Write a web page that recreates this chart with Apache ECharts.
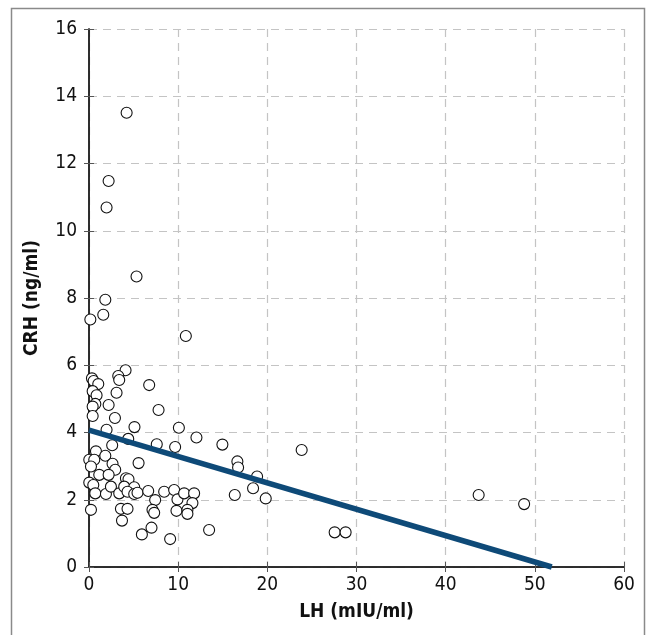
<!DOCTYPE html>
<html>
<head>
<meta charset="utf-8">
<script src="https://cdn.jsdelivr.net/npm/echarts@6/dist/echarts.min.js"></script>
<style>html,body{margin:0;padding:0;background:#fff}#c{width:648px;height:635px}</style>
</head>
<body>
<div id="c"></div>
<script>
const xTicks = [0, 10, 20, 30, 40, 50, 60];
const yTicks = [0, 2, 4, 6, 8, 10, 12, 14, 16];
const xTitle = 'LH (mIU/ml)';
const yTitle = 'CRH (ng/ml)';
const lh = [4.22, 2.2, 1.97, 5.33, 1.83, 1.6, 0.15,
  10.86, 4.1, 3.28, 3.39, 0.33, 0.52, 1.04, 6.75, 0.41, 0.85, 3.09, 0.71, 0.41, 2.2, 7.8, 0.41, 2.91, 1.97, 5.1, 10.08, 12.05, 4.4,
  14.96, 23.85, 16.64, 16.72, 18.85, 18.4, 16.35, 19.82, 27.55, 28.78,
  2.6, 7.6, 9.66, 0.78, 1.83,
  0.03, 0.59, 2.64, 2.94, 0.22, 1.15, 2.2, 5.56, 0.03, 0.48, 0.7, 1.9, 2.46, 3.39, 4.14, 4.43, 3.95, 5.07, 4.32, 5.07, 5.44, 6.64, 7.42, 8.43, 9.55, 9.92, 10.67, 11.79, 11.6, 0.22, 3.58, 4.32, 3.7, 7.12, 7.31, 9.81, 11.04, 11.04, 13.47, 7.01, 5.93, 9.1,
  43.7, 48.8];
const crh = [13.51, 11.48, 10.69, 8.64, 7.95, 7.5, 7.36,
  6.87, 5.85, 5.68, 5.56, 5.61, 5.53, 5.44, 5.41, 5.23, 5.11, 5.18, 4.85, 4.77, 4.82, 4.67, 4.49, 4.43, 4.08, 4.16, 4.14, 3.85, 3.81,
  3.64, 3.48, 3.14, 2.96, 2.69, 2.34, 2.14, 2.04, 1.03, 1.03,
  3.62, 3.65, 3.57, 3.44, 3.31,
  3.19, 3.19, 3.07, 2.89, 2.99, 2.74, 2.74, 3.09, 2.51, 2.44, 2.19, 2.17, 2.39, 2.19, 2.64, 2.61, 2.39, 2.37, 2.24, 2.17, 2.21, 2.26, 1.99, 2.24, 2.29, 2.01, 2.19, 2.19, 1.9, 1.7, 1.73, 1.73, 1.38, 1.7, 1.61, 1.67, 1.7, 1.58, 1.1, 1.17, 0.97, 0.83,
  2.14, 1.87];
const fitX = [0, 51.9];
const fitY = [4.07, 0];

const font = "'Liberation Sans Narrow','DejaVu Sans Condensed','Roboto Condensed',sans-serif";
const chart = echarts.init(document.getElementById('c'), null, {renderer: 'canvas'});
const pts = lh.map((v, i) => [v, crh[i]]);
const fit = fitX.map((v, i) => [v, fitY[i]]);
const axisLine = {show: true, lineStyle: {color: '#222', width: 1.5}};
const tick = {show: true, inside: true, length: 5, lineStyle: {color: '#555', width: 1}};
const split = {show: true, lineStyle: {color: '#c4c4c4', type: [8, 6], width: 1.2}};
const lab = {color: '#111', fontFamily: font, fontSize: 19};
chart.setOption({
  animation: false,
  backgroundColor: '#fff',
  graphic: [{type: 'rect', shape: {x: 11.5, y: 8.5, width: 633, height: 700}, style: {fill: 'none', stroke: '#8a8a8a', lineWidth: 1.5}, z: -10}],
  grid: {left: 89, right: 24, top: 29, bottom: 68, show: false},
  xAxis: [
    {type: 'value', min: xTicks[0], max: xTicks[xTicks.length - 1], interval: 10, position: 'bottom',
      name: xTitle, nameLocation: 'middle', nameGap: 36,
      nameTextStyle: {fontFamily: font, fontSize: 19, fontWeight: 'bold', color: '#111'},
      axisLine: axisLine, axisTick: tick, splitLine: split,
      axisLabel: Object.assign({margin: 9}, lab)},
    {type: 'value', min: xTicks[0], max: xTicks[xTicks.length - 1], interval: 10, position: 'top',
      axisLine: axisLine, axisTick: tick, splitLine: {show: false}, axisLabel: {show: false}}
  ],
  yAxis: [
    {type: 'value', min: yTicks[0], max: yTicks[yTicks.length - 1], interval: 2, position: 'left',
      name: yTitle, nameLocation: 'middle', nameGap: 47, nameRotate: 90,
      nameTextStyle: {fontFamily: font, fontSize: 19, fontWeight: 'bold', color: '#111'},
      axisLine: axisLine, axisTick: tick, splitLine: split,
      axisLabel: Object.assign({margin: 12}, lab)},
    {type: 'value', min: yTicks[0], max: yTicks[yTicks.length - 1], interval: 2, position: 'right',
      axisLine: axisLine, axisTick: tick, splitLine: {show: false}, axisLabel: {show: false}}
  ],
  series: [
    {type: 'scatter', data: pts, symbol: 'circle', symbolSize: 11,
      itemStyle: {color: '#fff', borderColor: '#111', borderWidth: 1.1, opacity: 1}, z: 3},
    {type: 'line', data: fit, symbol: 'none', clip: false,
      lineStyle: {color: '#0e4a78', width: 5.5, cap: 'butt'}, z: 4}
  ]
});
</script>
</body>
</html>
